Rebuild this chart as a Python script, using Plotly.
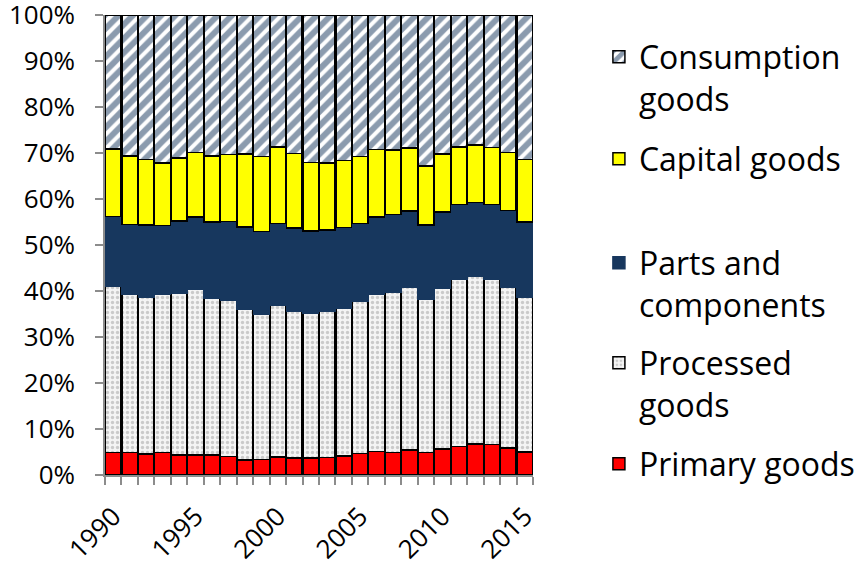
import plotly.graph_objects as go

years = list(range(1990, 2016))

# shares (percent)
primary = [4.9, 4.9, 4.6, 4.9, 4.4, 4.3, 4.3, 4.0, 3.3, 3.4, 3.9, 3.7, 3.7,
           3.8, 4.1, 4.7, 5.1, 4.9, 5.4, 4.9, 5.7, 6.2, 6.7, 6.6, 5.9, 5.0]
processed = [36.2, 34.5, 34.0, 34.3, 35.2, 36.0, 34.1, 33.9, 32.8, 31.6, 32.9, 32.0, 31.5,
             31.7, 32.2, 33.0, 34.1, 34.9, 35.4, 33.4, 35.0, 36.3, 36.6, 35.9, 35.0, 33.6]
parts = [15.1, 15.1, 15.7, 15.0, 15.6, 15.8, 16.6, 17.2, 17.8, 17.9, 17.9, 18.0, 17.8,
         17.8, 17.5, 17.0, 16.9, 16.8, 16.6, 16.1, 16.5, 16.3, 16.0, 16.3, 16.6, 16.4]
capital = [14.7, 14.9, 14.3, 13.6, 13.7, 14.0, 14.4, 14.6, 15.9, 16.4, 16.6, 16.2, 14.9,
           14.5, 14.6, 14.6, 14.7, 14.1, 13.7, 12.8, 12.6, 12.5, 12.4, 12.4, 12.6, 13.6]
consumption = [29.1, 30.6, 31.4, 32.2, 31.1, 29.9, 30.6, 30.3, 30.2, 30.7, 28.7, 30.1, 32.1,
               32.2, 31.6, 30.7, 29.2, 29.3, 28.9, 32.8, 30.2, 28.7, 28.3, 28.8, 29.9, 31.4]

tick_years = [1990, 1995, 2000, 2005, 2010, 2015]
y_ticks = list(range(0, 101, 10))

NAVY = "#17375E"
FONT = "Open Sans"

fig = go.Figure()

fig.add_trace(go.Bar(
    x=years, y=primary, name="Primary goods", legend="legend5",
    marker=dict(color="#FF0000", line=dict(color="black", width=1.5)),
))
fig.add_trace(go.Bar(
    x=years, y=processed, name="Processed<br>goods", legend="legend4",
    marker=dict(color="#F4F4F4", line=dict(color="black", width=1.5),
                pattern=dict(shape=".", fgcolor="#A0A0A0", bgcolor="#F4F4F4",
                             size=5, solidity=0.35)),
))
fig.add_trace(go.Bar(
    x=years, y=parts, name="Parts and<br>components", legend="legend3",
    marker=dict(color=NAVY, line=dict(color=NAVY, width=1.5)),
))
fig.add_trace(go.Bar(
    x=years, y=capital, name="Capital goods", legend="legend2",
    marker=dict(color="#FFFF00", line=dict(color="black", width=1.5)),
))
fig.add_trace(go.Bar(
    x=years, y=consumption, name="Consumption<br>goods", legend="legend",
    marker=dict(color="white", line=dict(color="black", width=1.5),
                pattern=dict(shape="/", fgcolor=NAVY, bgcolor="white",
                             size=10, solidity=0.6)),
))

def py(pix):
    # pixel row -> paper coordinate (plot spans rows 15..475)
    return (475 - pix) / 460

legend_common = dict(
    font=dict(family=FONT, size=32, color="black"),
    bgcolor="rgba(0,0,0,0)",
    xanchor="left", yanchor="middle", valign="top",
    itemclick=False, itemdoubleclick=False,
    x=1.154,
)

fig.update_layout(
    width=860, height=567,
    barmode="stack",
    bargap=0.04,
    plot_bgcolor="white",
    paper_bgcolor="white",
    margin=dict(l=105, r=327, t=15, b=92, autoexpand=False),
    font=dict(family=FONT, size=26, color="black"),
    showlegend=True,
    legend=dict(y=py(78), **legend_common),
    legend2=dict(y=py(159), **legend_common),
    legend3=dict(y=py(284), **legend_common),
    legend4=dict(y=py(384), **legend_common),
    legend5=dict(y=py(464), **legend_common),
    xaxis=dict(
        range=[1989.5, 2015.5],
        automargin=False,
        tickmode="array", tickvals=tick_years,
        ticktext=[str(t) for t in tick_years],
        tickangle=-45,
        ticks="", ticklen=0,
        showline=True, linecolor="#8C8C8C", linewidth=1.5,
        showgrid=False, zeroline=False,
        tickfont=dict(family=FONT, size=26),
        ticklabelstandoff=14,
        ticklabeloverflow="allow",
        minor=dict(tick0=1989.5, dtick=1, ticks="outside", ticklen=8,
                   tickcolor="#8C8C8C", tickwidth=1.5, showgrid=False),
    ),
    yaxis=dict(
        range=[0, 100.01],
        automargin=False,
        tickmode="array", tickvals=y_ticks,
        ticktext=[f"{v}%" for v in y_ticks],
        ticks="outside", ticklen=8, tickcolor="#8C8C8C", tickwidth=1.5,
        showline=True, linecolor="#8C8C8C", linewidth=1.5,
        showgrid=False, zeroline=False,
        tickfont=dict(family=FONT, size=26),
        ticklabelstandoff=15,
        ticklabeloverflow="allow",
    ),
)

fig.write_html("out.html", config={"displayModeBar": False},
               post_script="document.body.style.margin='0';")
